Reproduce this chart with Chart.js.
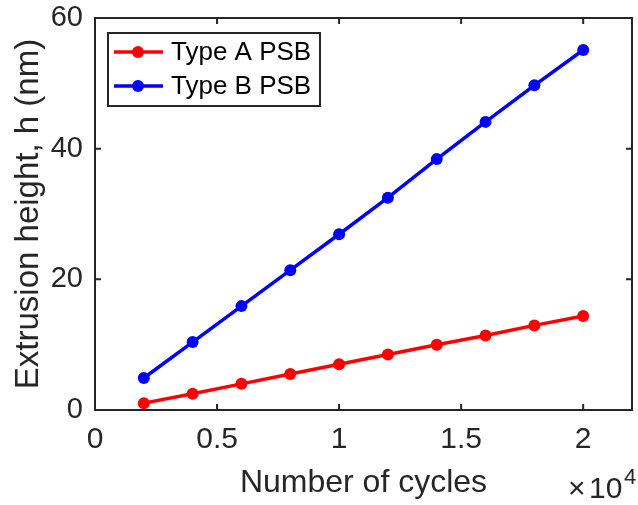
<!DOCTYPE html>
<html>
<head>
<meta charset="utf-8">
<script src="https://cdn.jsdelivr.net/npm/chart.js@4"></script>
<style>
  html, body { margin: 0; padding: 0; background: #fff; }
  #wrap { width: 638px; height: 505px; }
</style>
</head>
<body>
<div id="wrap"><canvas id="extrusionChart" width="638" height="505"></canvas></div>
<script>
// data
const cycles = [2000, 4000, 6000, 8000, 10000, 12000, 14000, 16000, 18000, 20000];
const typeA = [1.05, 2.5, 4.0, 5.5, 7.0, 8.5, 10.0, 11.4, 12.95, 14.4];
const typeB = [4.9, 10.4, 15.9, 21.4, 26.9, 32.5, 38.4, 44.1, 49.7, 55.1];
const seriesNames = ['Type A PSB', 'Type B PSB'];
const xTicks = [0, 5000, 10000, 15000, 20000];
const yTicks = [0, 20, 40, 60];

const axisColor = '#262626';
const fontFamily = 'Arial, "Liberation Sans", Helvetica, sans-serif';

// box around the axes, inward ticks, legend and the x10^4 label (MATLAB look)
const matlabBox = {
    id: 'matlabBox',
    afterDatasetsDraw(chart) {
        const ctx = chart.ctx;
        const area = chart.chartArea;
        const xs = chart.scales.x;
        const ys = chart.scales.y;
        const tickLen = 6;

        ctx.save();
        ctx.strokeStyle = axisColor;
        ctx.lineWidth = 2;
        ctx.strokeRect(area.left, area.top, area.right - area.left, area.bottom - area.top);

        ctx.beginPath();
        xTicks.forEach(v => {
            const px = xs.getPixelForValue(v);
            ctx.moveTo(px, area.bottom);
            ctx.lineTo(px, area.bottom - tickLen);
            ctx.moveTo(px, area.top);
            ctx.lineTo(px, area.top + tickLen);
        });
        yTicks.forEach(v => {
            const py = ys.getPixelForValue(v);
            ctx.moveTo(area.left, py);
            ctx.lineTo(area.left + tickLen, py);
            ctx.moveTo(area.right, py);
            ctx.lineTo(area.right - tickLen, py);
        });
        ctx.stroke();

        // legend box
        const lx = 108, ly = 33, lw = 212, lh = 73;
        ctx.fillStyle = '#fff';
        ctx.fillRect(lx, ly, lw, lh);
        ctx.lineWidth = 2;
        ctx.strokeRect(lx, ly, lw, lh);
        ctx.font = '26px ' + fontFamily;
        ctx.textBaseline = 'middle';
        chart.data.datasets.forEach((ds, i) => {
            const ry = 52 + i * 34;
            ctx.strokeStyle = ds.borderColor;
            ctx.lineWidth = 3.5;
            ctx.beginPath();
            ctx.moveTo(114, ry);
            ctx.lineTo(163, ry);
            ctx.stroke();
            ctx.fillStyle = ds.borderColor;
            ctx.beginPath();
            ctx.arc(138, ry, 6, 0, Math.PI * 2);
            ctx.fill();
            ctx.fillStyle = '#000';
            ctx.fillText(ds.label, 171, ry + 1);
        });

        // exponent label
        ctx.fillStyle = axisColor;
        ctx.textBaseline = 'alphabetic';
        ctx.font = '30px ' + fontFamily;
        ctx.fillText('\u00d7', 568, 498);
        ctx.fillText('10', 589, 498);
        ctx.font = '22px ' + fontFamily;
        ctx.fillText('4', 624, 484);
        ctx.restore();
    }
};

const ctx = document.getElementById('extrusionChart').getContext('2d');
const extrusionChart = new Chart(ctx, {
    type: 'line',
    data: {
        datasets: [{
            label: seriesNames[0],
            data: cycles.map((c, i) => ({ x: c, y: typeA[i] })),
            borderColor: '#ff0000',
            backgroundColor: '#ff0000',
            borderWidth: 3.5,
            pointRadius: 6,
            pointBorderWidth: 0,
            tension: 0
        }, {
            label: seriesNames[1],
            data: cycles.map((c, i) => ({ x: c, y: typeB[i] })),
            borderColor: '#0000ff',
            backgroundColor: '#0000ff',
            borderWidth: 3.5,
            pointRadius: 6,
            pointBorderWidth: 0,
            tension: 0
        }]
    },
    options: {
        responsive: false,
        animation: false,
        layout: { padding: { top: 18, right: 4, left: 0, bottom: 0 } },
        plugins: {
            legend: { display: false },
            tooltip: { enabled: false }
        },
        scales: {
            x: {
                type: 'linear',
                min: 0,
                max: 22000,
                afterBuildTicks: scale => { scale.ticks = xTicks.map(v => ({ value: v })); },
                afterFit: scale => {
                    scale.height = 95;
                    scale.paddingLeft = 0;
                    scale.paddingRight = 0;
                },
                grid: { display: false, drawTicks: false },
                border: { display: false },
                ticks: {
                    color: axisColor,
                    font: { family: fontFamily, size: 30 },
                    padding: 12,
                    maxRotation: 0,
                    callback: v => String(v / 10000)
                },
                title: {
                    display: true,
                    text: 'Number of cycles',
                    color: axisColor,
                    font: { family: fontFamily, size: 32 },
                    padding: { top: 0, bottom: 3 }
                }
            },
            y: {
                type: 'linear',
                min: 0,
                max: 60,
                afterBuildTicks: scale => { scale.ticks = yTicks.map(v => ({ value: v })); },
                afterFit: scale => {
                    scale.width = 95;
                    scale.paddingTop = 0;
                    scale.paddingBottom = 0;
                },
                grid: { display: false, drawTicks: false },
                border: { display: false },
                ticks: {
                    color: axisColor,
                    font: { family: fontFamily, size: 29 },
                    padding: 12
                },
                title: {
                    display: true,
                    text: 'Extrusion height, h (nm)',
                    color: axisColor,
                    font: { family: fontFamily, size: 33 },
                    padding: { top: 9, bottom: 0 }
                }
            }
        }
    },
    plugins: [matlabBox]
});
</script>
</body>
</html>
